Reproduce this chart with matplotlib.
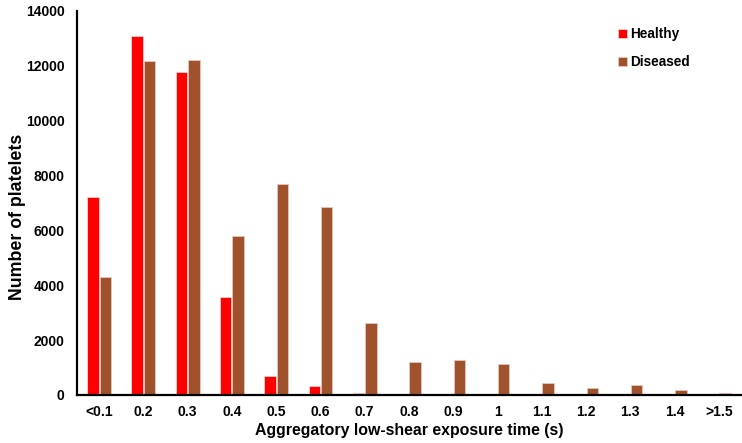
import matplotlib.pyplot as plt
import numpy as np

plt.rcParams['font.family'] = ['Liberation Sans', 'DejaVu Sans']
plt.rcParams['font.weight'] = 'bold'

categories = ['<0.1', '0.2', '0.3', '0.4', '0.5', '0.6', '0.7', '0.8',
              '0.9', '1', '1.1', '1.2', '1.3', '1.4', '>1.5']
healthy = [7230, 13080, 11760, 3560, 690, 340, 60, 0,
           0, 0, 0, 0, 0, 0, 0]
diseased = [4300, 12170, 12230, 5780, 7710, 6850, 2640, 1210,
            1260, 1140, 455, 265, 370, 200, 80]

x = np.arange(len(categories))
w = 0.26

fig = plt.figure(figsize=(7.42, 4.43), dpi=100)
ax = fig.add_axes([77 / 742, 48 / 443, 664 / 742, 384 / 443])

ax.bar(x - w / 2 - 0.01, healthy, w, color='#ff0000', edgecolor='#ffd0d0', linewidth=0.6, label='Healthy')
ax.bar(x + w / 2 + 0.01, diseased, w, color='#a0522d', edgecolor='#e8c8bc', linewidth=0.6, label='Diseased')

ax.set_xlim(-0.5, len(categories) - 0.5)
ax.set_ylim(0, 14000)
ax.set_yticks(range(0, 14001, 2000))
ax.set_xticks(x)
ax.set_xticklabels(categories)
ax.tick_params(length=0, labelsize=10, pad=7)
ax.tick_params(axis='y', pad=9)

for s in ['top', 'right']:
    ax.spines[s].set_visible(False)
for s in ['left', 'bottom']:
    ax.spines[s].set_linewidth(1.6)

ax.set_ylabel('Number of platelets', fontsize=12.8, fontweight='bold')
ax.yaxis.set_label_coords(-0.077, 0.465)
ax.set_xlabel('Aggregatory low-shear exposure time (s)', fontsize=11.4, fontweight='bold', labelpad=3)

ax.legend(loc='upper right', bbox_to_anchor=(0.942, 0.99), frameon=False,
          fontsize=9.8, handlelength=0.65, handleheight=0.65, handletextpad=0.25,
          labelspacing=1.05)

fig.savefig('out.png', dpi=100)
